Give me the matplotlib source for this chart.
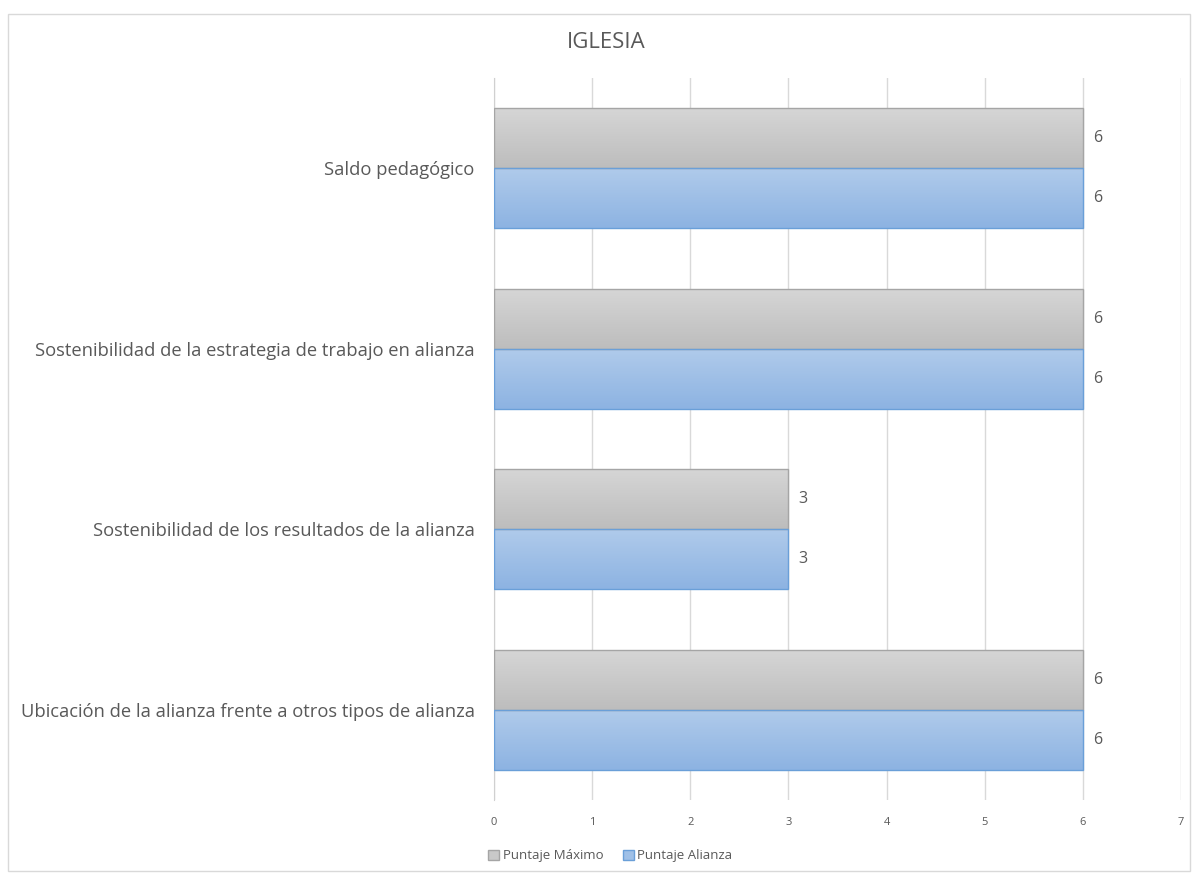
import matplotlib
matplotlib.use("Agg")
import matplotlib.pyplot as plt
import numpy as np
from matplotlib.patches import Rectangle, Patch
from matplotlib.colors import LinearSegmentedColormap

categories = [
    "Ubicación de la alianza frente a otros tipos de alianza",
    "Sostenibilidad de los resultados de la alianza",
    "Sostenibilidad de la estrategia de trabajo en alianza",
    "Saldo pedagógico",
]
puntaje_maximo = [6, 3, 6, 6]
puntaje_alianza = [6, 3, 6, 6]
series_names = ["Puntaje Máximo", "Puntaje Alianza"]
title = "IGLESIA"
xticks = [0, 1, 2, 3, 4, 5, 6, 7]

plt.rcParams['font.family'] = ['Open Sans', 'DejaVu Sans']
txt = "#595959"

fig = plt.figure(figsize=(11.92, 8.74), dpi=100)
ax = fig.add_axes([0.4144, 0.0847, 0.5764, 0.8261])

# chart border
fig.patches.append(Rectangle((0.007, 0.003), 0.991, 0.981, transform=fig.transFigure,
                             fill=False, edgecolor="#d9d9d9", linewidth=1))

y = np.arange(len(categories))
h = 0.333
gray_cmap = LinearSegmentedColormap.from_list("g", ["#d6d6d6", "#bdbdbd"])
blue_cmap = LinearSegmentedColormap.from_list("b", ["#b0cbeb", "#8db3e2"])

bars_max = ax.barh(y + h / 2, puntaje_maximo, height=h, facecolor="none",
                   edgecolor="#a5a5a5", linewidth=1, zorder=3)
bars_al = ax.barh(y - h / 2, puntaje_alianza, height=h, facecolor="none",
                  edgecolor="#6a9fd8", linewidth=1, zorder=3)

grad = np.linspace(0, 1, 64).reshape(-1, 1)
for bars, cmap in ((bars_max, gray_cmap), (bars_al, blue_cmap)):
    for b in bars:
        x0, y0, w, hh = b.get_x(), b.get_y(), b.get_width(), b.get_height()
        im = ax.imshow(grad, cmap=cmap, aspect="auto", origin="upper",
                       extent=[x0, x0 + w, y0, y0 + hh], zorder=2.9)
        im.set_clip_path(b)

for b, v in zip(bars_max, puntaje_maximo):
    ax.text(v + 0.1, b.get_y() + b.get_height() / 2, f"{v}", va="center", ha="left",
            fontsize=11.5, color=txt)
for b, v in zip(bars_al, puntaje_alianza):
    ax.text(v + 0.1, b.get_y() + b.get_height() / 2, f"{v}", va="center", ha="left",
            fontsize=11.5, color=txt)

ax.set_xlim(0, 7)
ax.set_ylim(-0.5, 3.5)
ax.set_xticks(xticks)
ax.set_xticklabels([str(t) for t in xticks], fontsize=8, color=txt)
ax.set_yticks(y)
ax.set_yticklabels(categories, fontsize=13.2, color=txt)
ax.tick_params(axis="x", length=0, pad=12)
ax.tick_params(axis="y", length=0, pad=14)
ax.grid(axis="x", color="#d9d9d9", linewidth=1, zorder=0)
ax.set_axisbelow(True)
for s in ["top", "right", "bottom"]:
    ax.spines[s].set_visible(False)
ax.spines["left"].set_color("#d0d0d0")

fig.text(0.509, 0.951, title, ha="center", va="center", fontsize=16, color=txt)

handles = [Patch(facecolor="#c9c9c9", edgecolor="#a5a5a5"),
           Patch(facecolor="#9fc0e7", edgecolor="#6a9fd8")]
fig.legend(handles, series_names, loc="center", bbox_to_anchor=(0.512, 0.021), ncol=2,
           frameon=False, fontsize=9.5, labelcolor=txt, handlelength=0.8, handleheight=0.8,
           handletextpad=0.3, columnspacing=1.5)

fig.savefig("out.png", dpi=100)
